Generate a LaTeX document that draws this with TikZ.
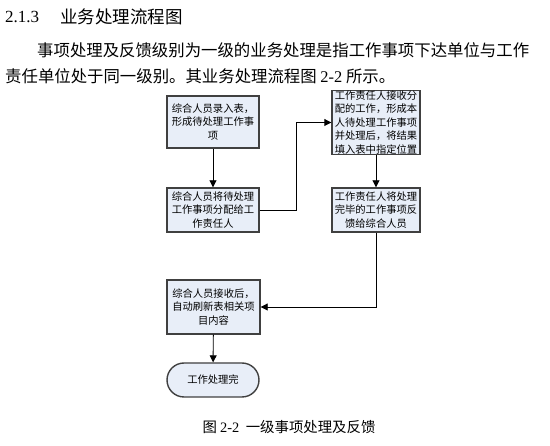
\documentclass[tikz,border=0pt]{standalone}
\usepackage{fontspec}
\setmainfont{Liberation Serif}
\newfontfamily\cjk{Noto Sans CJK SC}
\usetikzlibrary{positioning,arrows.meta}
\definecolor{boxfill}{RGB}{232,238,248}
\definecolor{boxline}{RGB}{64,64,64}

\tikzstyle{every node}=[inner sep=0pt]
\tikzstyle{stepbox}=[draw=boxline, line width=1.4pt, fill=boxfill, align=center,
  font=\cjk\fontsize{10.3pt}{13.6pt}\selectfont]
\tikzstyle{flow}=[line width=0.9pt, -{Triangle[length=7pt,width=7pt]}]

\begin{document}
\begin{tikzpicture}[x=1pt,y=-1pt]
	\useasboundingbox (0,0) rectangle (550,446);

	% Nadpis a odstavec
	\node[anchor=west, font=\fontsize{17pt}{20pt}\selectfont] (num) at (5,17) {2.1.3};
	\node[anchor=west, font=\cjk\fontsize{17.5pt}{20pt}\selectfont] (title) at (60,17) {业务处理流程图};
	\node[anchor=west, font=\cjk\fontsize{16.4pt}{20pt}\selectfont] (line1) at (37,50)
		{事项处理及反馈级别为一级的业务处理是指工作事项下达单位与工作};
	\node[anchor=west, font=\cjk\fontsize{16.4pt}{20pt}\selectfont] (line2) at (5,76)
		{责任单位处于同一级别。其业务处理流程图 {\rmfamily 2-2} 所示。};

	% Bloky
	\node[stepbox, minimum width=92pt, minimum height=52pt] (enter) at (213,122)
		{综合人员录入表，\\形成待处理工作事\\项};
	\node[stepbox, minimum width=92pt, minimum height=44pt] (assign) at (213,210)
		{综合人员将待处理\\工作事项分配给工\\作责任人};
	\node[stepbox, minimum width=88pt, minimum height=55pt] (handle) at (376,122.5)
		{工作责任人接收分\\配的工作，形成本\\人待处理工作事项\\并处理后，将结果\\填入表中指定位置};
	\node[stepbox, minimum width=88pt, minimum height=44pt] (report) at (376,210)
		{工作责任人将处理\\完毕的工作事项反\\馈给综合人员};
	\node[stepbox, minimum width=93pt, minimum height=54pt] (refresh) at (213.5,307)
		{综合人员接收后，\\自动刷新表相关项\\目内容};
	\node[stepbox, minimum width=92pt, minimum height=34pt, rounded corners=17pt] (done) at (213,380)
		{工作处理完};

	% Spojnice
	\draw[flow] (enter) -- (assign);
	\draw[flow] (assign.east) -- ++(37,0) |- (handle.west);
	\draw[flow] (handle) -- (report);
	\draw[flow] (report.south) |- (refresh.east);
	\draw[flow] (refresh) -- (done);

	% Popisek
	\node[font=\cjk\fontsize{14.4pt}{17pt}\selectfont] (caption) at (289,427)
		{图 {\rmfamily 2-2} \ 一级事项处理及反馈};
\end{tikzpicture}
\end{document}
